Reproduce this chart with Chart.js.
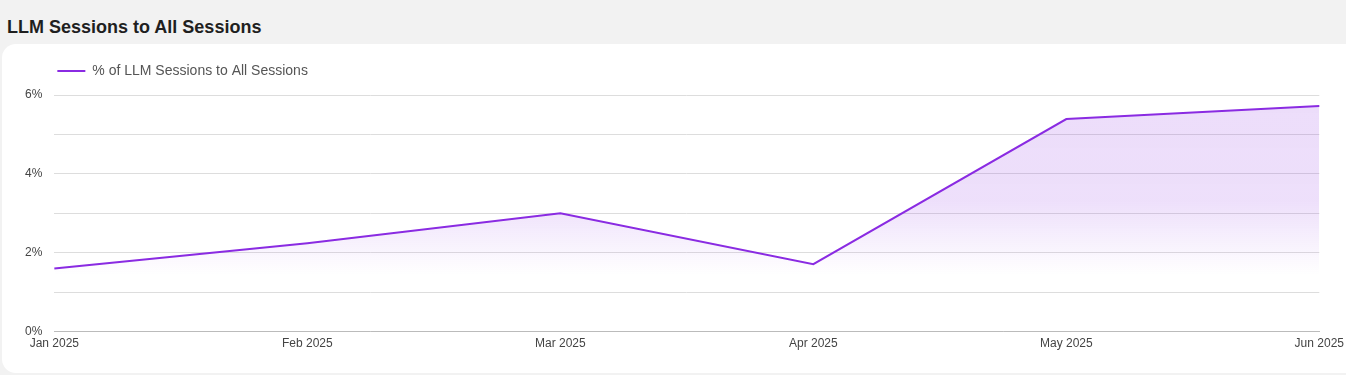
<!DOCTYPE html>
<html>
<head>
<meta charset="utf-8">
<script src="https://cdn.jsdelivr.net/npm/chart.js@4"></script>
<style>
  html, body { margin: 0; padding: 0; }
  body {
    width: 1346px; height: 375px; overflow: hidden;
    background: #f2f2f2; position: relative;
    font-family: "Liberation Sans", Arial, sans-serif;
  }
  h2 {
    position: absolute; left: 7px; top: 17px; margin: 0;
    font-size: 18px; font-weight: bold; color: #1f1f1f;
  }
  .card {
    position: absolute; left: 2px; top: 44px; width: 1370px; height: 329px;
    background: #fff; border-radius: 14px;
  }
  .wrap { position: absolute; left: 0; top: 0; width: 1349px; height: 375px; }
</style>
</head>
<body>
<h2>LLM Sessions to All Sessions</h2>
<div class="card"></div>
<div class="wrap"><canvas id="llmChart"></canvas></div>
<script>
const months = ["Jan 2025", "Feb 2025", "Mar 2025", "Apr 2025", "May 2025", "Jun 2025"];
const llmShare = [1.60, 2.24, 3.00, 1.71, 5.39, 5.72];
const yTicks = [0, 2, 4, 6];

const purple = "#8a2be2";

// push the plot down a bit below the legend
const legendGap = {
  id: "legendGap",
  beforeInit(chart) {
    const fit = chart.legend.fit;
    chart.legend.fit = function () {
      fit.call(this);
      this.height += 7;
    };
  }
};

function fillGradient(context) {
  const { ctx, chartArea } = context.chart;
  if (!chartArea) return "rgba(138,43,226,0.16)";
  const g = ctx.createLinearGradient(0, chartArea.top, 0, chartArea.bottom);
  g.addColorStop(0, "rgba(138,43,226,0.16)");
  g.addColorStop(0.45, "rgba(138,43,226,0.15)");
  g.addColorStop(0.76, "rgba(138,43,226,0)");
  g.addColorStop(1, "rgba(138,43,226,0)");
  return g;
}

Chart.defaults.font.family = '"Liberation Sans", Arial, sans-serif';

new Chart(document.getElementById("llmChart"), {
  type: "line",
  data: {
    labels: months,
    datasets: [{
      label: "% of LLM Sessions to All Sessions",
      data: llmShare,
      borderColor: purple,
      backgroundColor: fillGradient,
      borderWidth: 2,
      fill: "origin",
      tension: 0,
      pointRadius: 0,
      pointHoverRadius: 0
    }]
  },
  options: {
    responsive: true,
    maintainAspectRatio: false,
    animation: false,
    layout: { padding: { top: 61, left: 13, right: 24, bottom: 19 } },
    plugins: {
      legend: {
        display: true,
        align: "start",
        fullSize: false,
        labels: {
          usePointStyle: true,
          pointStyle: "line",
          pointStyleWidth: 28,
          padding: 3,
          color: "#555",
          font: { size: 14 }
        }
      },
      tooltip: { enabled: false }
    },
    scales: {
      x: {
        grid: { display: false, drawTicks: false },
        border: { display: true, color: "#bbb", width: 1 },
        ticks: { color: "#444", font: { size: 12 }, padding: 5, maxRotation: 0, autoSkip: false }
      },
      y: {
        min: 0,
        max: 6,
        grid: { color: "#dddddd", drawTicks: false },
        border: { display: false },
        ticks: {
          stepSize: 1,
          padding: 12,
          color: "#444",
          font: { size: 12 },
          callback: v => yTicks.includes(v) ? v + "%" : ""
        }
      }
    }
  },
  plugins: [legendGap]
});
</script>
</body>
</html>
